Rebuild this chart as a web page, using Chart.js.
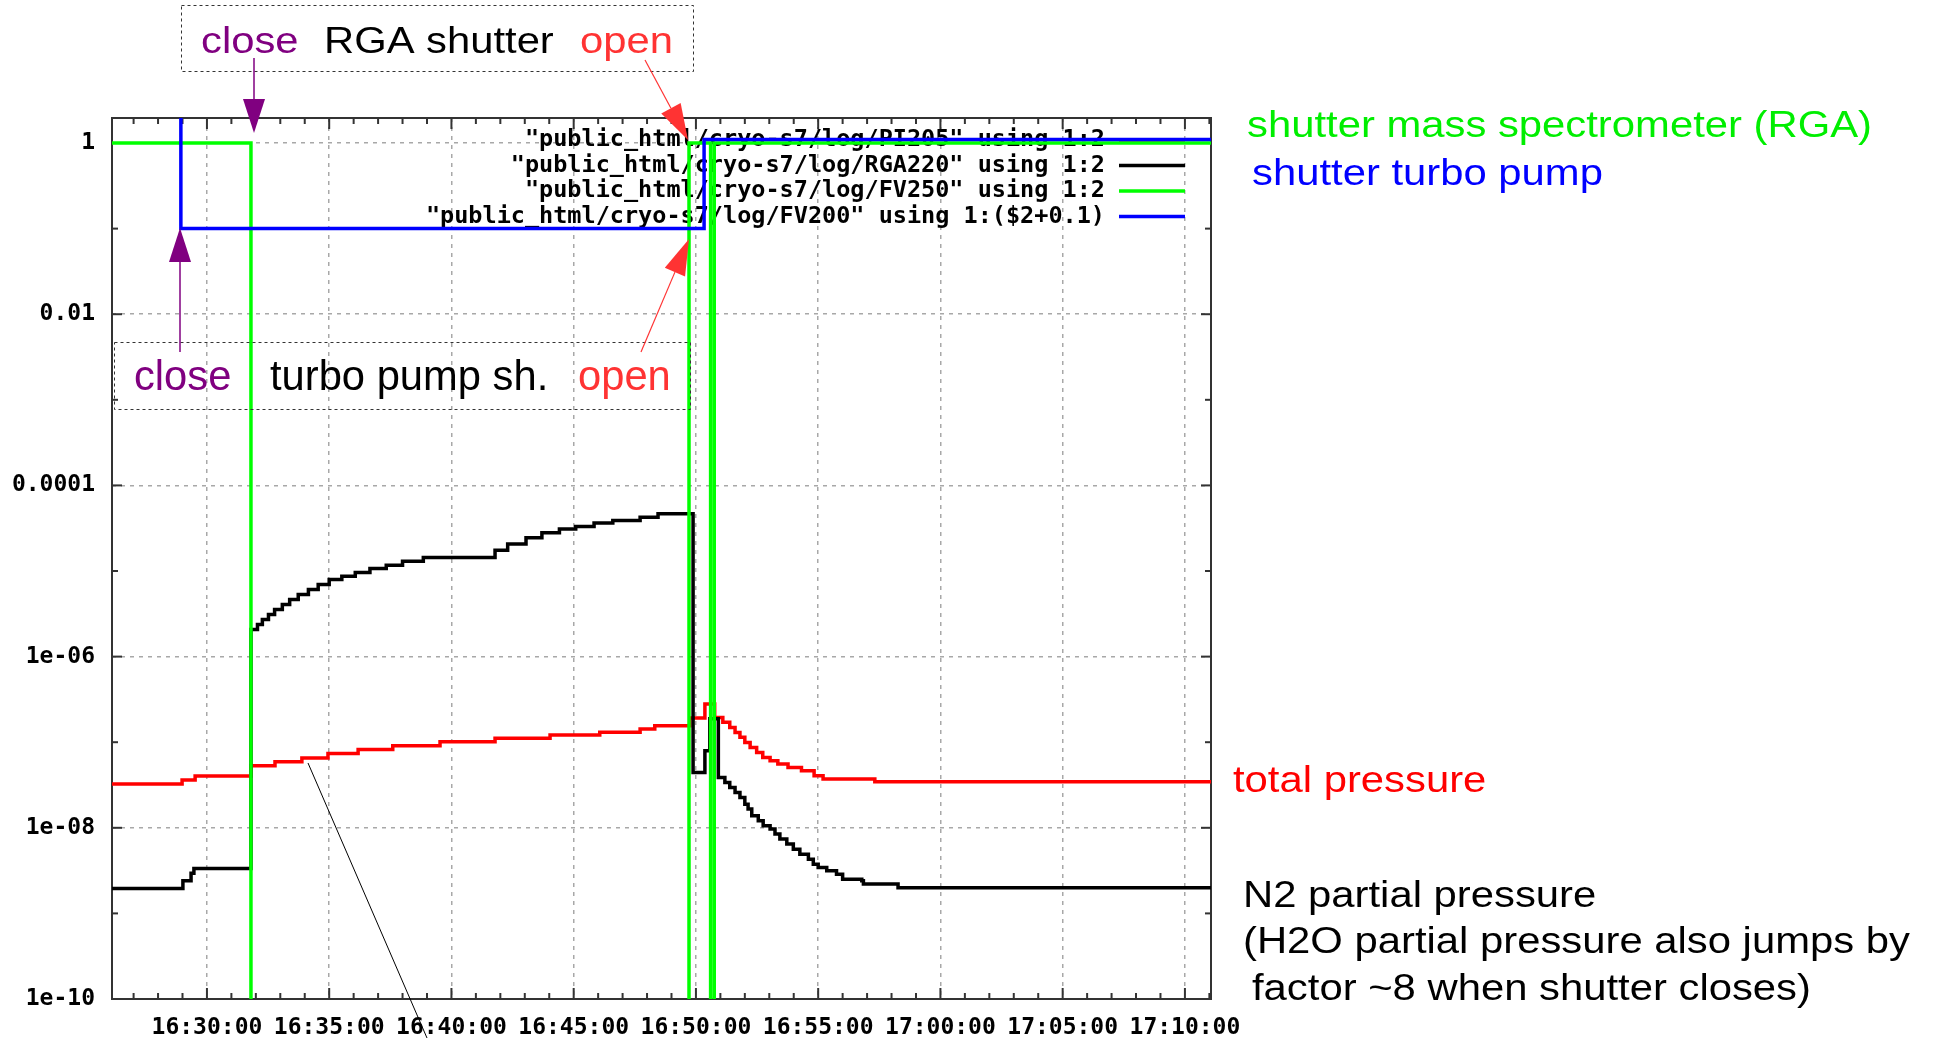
<!DOCTYPE html>
<html>
<head>
<meta charset="utf-8">
<script src="https://cdn.jsdelivr.net/npm/chart.js@4/dist/chart.umd.min.js"></script>
<style>
html,body{margin:0;padding:0;background:#ffffff;}
#c{display:block;}
</style>
</head>
<body>
<canvas id="c" width="1941" height="1038" style="width:1941px;height:1038px"></canvas>
<script>
// ---------------- data ----------------
const xRange = ['16:26:07', '17:11:04'];
const xTickLabels = ['16:30:00','16:35:00','16:40:00','16:45:00','16:50:00','16:55:00','17:00:00','17:05:00','17:10:00'];
const xMinorStepSeconds = 60;
const yRange = [1e-10, 1.96];
const yTickValues = [1e-10, 1e-8, 1e-6, 1e-4, 1e-2, 1];
const yTickLabels = ['1e-10', '1e-08', '1e-06', '0.0001', '0.01', '1'];

const seriesLabels = [
  '"public_html/cryo-s7/log/PI205" using 1:2',
  '"public_html/cryo-s7/log/RGA220" using 1:2',
  '"public_html/cryo-s7/log/FV250" using 1:2',
  '"public_html/cryo-s7/log/FV200" using 1:($2+0.1)'
];
const seriesColors = ['#ff0000', '#000000', '#00ff00', '#0000ff'];

// total pressure (PI205)
const totalTimes = ['16:26:07','16:28:59','16:29:31','16:31:48','16:32:47','16:33:53','16:34:57','16:36:11',
  '16:37:36','16:39:32','16:41:47','16:44:02','16:46:04','16:47:43','16:48:19','16:49:45','16:50:22',
  '16:50:46','16:51:06','16:51:23','16:51:36','16:51:48','16:52:00','16:52:13','16:52:29','16:52:44',
  '16:53:02','16:53:21','16:53:46','16:54:19','16:54:50','16:55:12','16:57:19','17:11:04'];
const totalValues = [3.25e-8,3.61e-8,4.03e-8,5.31e-8,5.91e-8,6.53e-8,7.39e-8,8.24e-8,
  9.10e-8,1.01e-7,1.11e-7,1.21e-7,1.31e-7,1.43e-7,1.56e-7,1.92e-7,2.80e-7,
  1.95e-7,1.71e-7,1.49e-7,1.30e-7,1.14e-7,9.95e-8,8.69e-8,7.60e-8,6.64e-8,
  6.08e-8,5.56e-8,5.07e-8,4.64e-8,4.06e-8,3.71e-8,3.45e-8,3.45e-8];

// N2 partial pressure (RGA220)
const n2Times = ['16:26:07','16:29:01','16:29:21','16:29:28','16:31:48','16:32:04','16:32:16','16:32:31',
  '16:32:46','16:33:05','16:33:23','16:33:44','16:34:09','16:34:33','16:35:00','16:35:31','16:36:04',
  '16:36:40','16:37:20','16:38:00','16:38:51','16:41:47','16:42:18','16:43:03','16:43:42','16:44:25',
  '16:45:05','16:45:50','16:46:36','16:47:43','16:48:27','16:49:53','16:50:22','16:50:34','16:50:55',
  '16:51:11','16:51:23','16:51:36','16:51:48','16:52:00','16:52:08','16:52:17','16:52:33','16:52:45',
  '16:53:02','16:53:14','16:53:26','16:53:43','16:53:59','16:54:15','16:54:36','16:54:48','16:55:00',
  '16:55:21','16:55:45','16:56:00','16:56:47','16:56:51','16:58:16','17:11:04'];
const n2Values = [1.95e-9,2.40e-9,2.95e-9,3.34e-9,2.07e-6,2.37e-6,2.71e-6,3.10e-6,
  3.55e-6,4.06e-6,4.64e-6,5.31e-6,6.08e-6,6.95e-6,7.96e-6,8.69e-6,9.60e-6,
  1.07e-5,1.17e-5,1.30e-5,1.44e-5,1.75e-5,2.07e-5,2.44e-5,2.80e-5,3.09e-5,
  3.30e-5,3.65e-5,3.90e-5,4.26e-5,4.67e-5,4.43e-8,7.96e-8,1.88e-7,3.88e-8,
  3.39e-8,2.96e-8,2.59e-8,2.26e-8,1.89e-8,1.66e-8,1.38e-8,1.21e-8,1.06e-8,
  9.66e-9,8.44e-9,7.38e-9,6.45e-9,5.63e-9,4.92e-9,4.30e-9,3.76e-9,3.43e-9,
  3.14e-9,2.87e-9,2.51e-9,2.40e-9,2.20e-9,1.99e-9,1.99e-9];

// RGA shutter (FV250): 1 = open, 0 = closed
const rgaTimes = ['16:26:07','16:31:48','16:49:43','16:50:36','16:50:45','17:11:04'];
const rgaStates = [1, 0, 1, 0, 1, 1];

// turbo pump shutter (FV200), plotted as $2+0.1 (first point lies above the plot)
const turboTimes = ['16:28:55','16:28:56','16:50:20','17:11:04'];
const turboValues = [10, 0.1, 1.1, 1.1];

// ---------------- helpers ----------------
function toSec(t) { const p = t.split(':').map(Number); return p[0]*3600 + p[1]*60 + p[2]; }
function pts(times, vals) { return times.map((t, i) => ({x: toSec(t), y: vals[i]})); }
const offScaleLow = 1e-12; // a closed shutter (0) falls off the bottom of the log axis
const xMajorSecs = xTickLabels.map(toSec);

const monoFont = {family: '"DejaVu Sans Mono", monospace', size: 23, weight: 'bold'};
const sansFamily = '"Liberation Sans", Arial, sans-serif';

function txt(ctx, s, x, y, color, size, sx) {
  ctx.save();
  ctx.translate(x, y);
  ctx.scale(sx, 1);
  ctx.fillStyle = color;
  ctx.font = size + 'px ' + sansFamily;
  ctx.textAlign = 'left';
  ctx.textBaseline = 'alphabetic';
  ctx.fillText(s, 0, 0);
  ctx.restore();
}
function arrow(ctx, x0, y0, x1, y1, color, lw, hl, hw) {
  const dx = x1 - x0, dy = y1 - y0, L = Math.hypot(dx, dy);
  const ux = dx / L, uy = dy / L;
  const bx = x1 - ux*hl, by = y1 - uy*hl;
  ctx.save();
  ctx.strokeStyle = color; ctx.fillStyle = color; ctx.lineWidth = lw;
  ctx.beginPath(); ctx.moveTo(x0, y0); ctx.lineTo(bx, by); ctx.stroke();
  ctx.beginPath();
  ctx.moveTo(x1, y1);
  ctx.lineTo(bx - uy*hw/2, by + ux*hw/2);
  ctx.lineTo(bx + uy*hw/2, by - ux*hw/2);
  ctx.closePath(); ctx.fill();
  ctx.restore();
}
function dashedBox(ctx, x, y, w, h) {
  ctx.save();
  ctx.strokeStyle = '#333'; ctx.lineWidth = 1; ctx.setLineDash([3, 3]);
  ctx.strokeRect(x + 0.5, y + 0.5, w, h);
  ctx.restore();
}

// ---------------- plugins ----------------
const framePlugin = {
  id: 'gpFrame',
  beforeDatasetsDraw(chart) {
    const {ctx, chartArea: a, scales: {x, y}} = chart;
    ctx.save();
    ctx.strokeStyle = '#333'; ctx.lineWidth = 2;
    const seg = (x0, y0, x1, y1) => { ctx.beginPath(); ctx.moveTo(x0, y0); ctx.lineTo(x1, y1); ctx.stroke(); };
    for (let s = Math.ceil(x.min/xMinorStepSeconds)*xMinorStepSeconds; s < x.max; s += xMinorStepSeconds) {
      const px = x.getPixelForValue(s);
      const len = xMajorSecs.includes(s) ? 11 : 6;
      seg(px, a.bottom, px, a.bottom - len);
      seg(px, a.top, px, a.top + len);
    }
    for (let e = -9; e <= 0; e++) {
      const py = y.getPixelForValue(Math.pow(10, e));
      const len = (e % 2 === 0) ? 10 : 6;
      seg(a.left, py, a.left + len, py);
      seg(a.right, py, a.right - len, py);
    }
    ctx.strokeRect(a.left, a.top, a.right - a.left, a.bottom - a.top);
    ctx.restore();
  }
};

const keyPlugin = {
  id: 'gpKey',
  beforeDatasetsDraw(chart) {
    const {ctx, chartArea: a} = chart;
    const textRight = a.right - 106, sampleL = a.right - 92, sampleR = a.right - 26;
    ctx.save();
    ctx.font = 'bold 23.5px "DejaVu Sans Mono", monospace';
    ctx.textAlign = 'right'; ctx.textBaseline = 'middle'; ctx.fillStyle = '#000';
    chart.data.datasets.forEach((ds, i) => {
      const yy = a.top + 22 + i*25.5;
      ctx.fillText(ds.label, textRight, yy);
      ctx.strokeStyle = ds.borderColor; ctx.lineWidth = 3.5;
      ctx.beginPath(); ctx.moveTo(sampleL, yy); ctx.lineTo(sampleR, yy); ctx.stroke();
    });
    ctx.restore();
  }
};

const notePlugin = {
  id: 'notes',
  afterDraw(chart) {
    const ctx = chart.ctx;
    const purple = '#800080', red = '#ff3333';
    // RGA shutter box
    dashedBox(ctx, 181, 5, 512, 66);
    txt(ctx, 'close', 201, 53, purple, 36, 1.16);
    txt(ctx, 'RGA shutter', 324, 53, '#000', 36, 1.16);
    txt(ctx, 'open', 580, 53, red, 36, 1.16);
    arrow(ctx, 254, 58, 254, 133, purple, 1.5, 34, 22);
    arrow(ctx, 645, 60, 688, 140, red, 1.2, 36, 22);
    // turbo pump box
    dashedBox(ctx, 114, 342, 576, 67);
    txt(ctx, 'close', 134, 390, purple, 43, 0.97);
    txt(ctx, 'turbo pump sh.', 270, 390, '#000', 43, 0.97);
    txt(ctx, 'open', 578, 390, red, 43, 0.97);
    arrow(ctx, 180, 352, 180, 228, purple, 1.5, 34, 22);
    arrow(ctx, 641, 352, 689, 239, red, 1.2, 36, 22);
    // pointer line
    ctx.save(); ctx.strokeStyle = '#000'; ctx.lineWidth = 1;
    ctx.beginPath(); ctx.moveTo(308, 763); ctx.lineTo(427, 1038); ctx.stroke(); ctx.restore();
    // right side labels
    txt(ctx, 'shutter mass spectrometer (RGA)', 1247, 137, '#00ee00', 37, 1.13);
    txt(ctx, 'shutter turbo pump', 1252, 185, '#0000ff', 37, 1.13);
    txt(ctx, 'total pressure', 1233, 792, '#ff0000', 37, 1.13);
    txt(ctx, 'N2 partial pressure', 1243, 907, '#000', 37, 1.13);
    txt(ctx, '(H2O partial pressure also jumps by', 1243, 953, '#000', 37, 1.13);
    txt(ctx, 'factor ~8 when shutter closes)', 1252, 1000, '#000', 37, 1.13);
  }
};

// ---------------- chart ----------------
const gridOpts = {color: '#a8a8a8', lineWidth: 1.5, drawTicks: false};
const borderOpts = {display: false, dash: [4, 5]};

new Chart(document.getElementById('c').getContext('2d'), {
  type: 'line',
  data: {
    datasets: [
      {label: seriesLabels[0], data: pts(totalTimes, totalValues), borderColor: seriesColors[0],
       borderWidth: 3.5, stepped: 'before', order: 4},
      {label: seriesLabels[1], data: pts(n2Times, n2Values), borderColor: seriesColors[1],
       borderWidth: 3.5, stepped: 'before', order: 3},
      {label: seriesLabels[2], data: pts(rgaTimes, rgaStates.map(v => v === 0 ? offScaleLow : v)),
       borderColor: seriesColors[2], borderWidth: 3.5, stepped: 'before', order: 2},
      {label: seriesLabels[3], data: pts(turboTimes, turboValues), borderColor: seriesColors[3],
       borderWidth: 3.5, stepped: 'before', order: 1}
    ]
  },
  options: {
    responsive: false,
    animation: false,
    devicePixelRatio: 1,
    layout: {padding: {left: 0, top: 118, right: 730, bottom: 0}},
    elements: {point: {radius: 0, hoverRadius: 0}, line: {tension: 0, fill: false}},
    plugins: {legend: {display: false}, tooltip: {enabled: false}},
    events: [],
    scales: {
      x: {
        type: 'linear',
        min: toSec(xRange[0]), max: toSec(xRange[1]),
        afterFit: s => { s.height = 39; },
        afterBuildTicks: s => { s.ticks = xMajorSecs.map(v => ({value: v})); },
        ticks: {autoSkip: false, maxRotation: 0, minRotation: 0,
                callback: (v, i) => xTickLabels[i], font: monoFont, color: '#000', padding: 15},
        grid: gridOpts, border: borderOpts
      },
      y: {
        type: 'logarithmic',
        min: yRange[0], max: yRange[1],
        afterFit: s => { s.width = 112; },
        afterBuildTicks: s => { s.ticks = yTickValues.map(v => ({value: v})); },
        ticks: {autoSkip: false, callback: (v, i) => yTickLabels[i], font: monoFont, color: '#000', padding: 17},
        grid: gridOpts, border: borderOpts
      }
    }
  },
  plugins: [framePlugin, keyPlugin, notePlugin]
});
</script>
</body>
</html>
